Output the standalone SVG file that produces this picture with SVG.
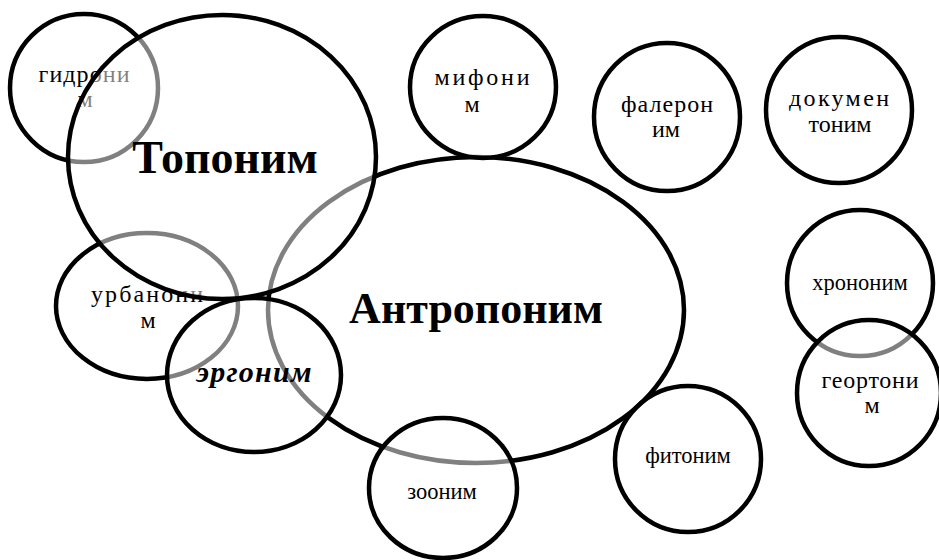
<svg xmlns="http://www.w3.org/2000/svg" width="939" height="560" viewBox="0 0 939 560">
<style>
.n{fill:#fff;fill-opacity:0.5;stroke:#000;stroke-width:4.5}
.t{font-family:"Liberation Serif","Times New Roman",serif;font-size:24px;fill:#000;text-anchor:middle}
.s{font-family:"Liberation Serif","Times New Roman",serif;font-size:22.5px;fill:#000;text-anchor:middle}
.big{font-family:"Liberation Serif","Times New Roman",serif;font-weight:bold;fill:#000;text-anchor:middle}
.it{font-family:"Liberation Serif","Times New Roman",serif;font-weight:bold;font-style:italic;font-size:30px;fill:#000;text-anchor:middle}
</style>
<rect width="939" height="560" fill="#fff"/>
<g id="connectors"></g>
<g id="gidronim"><ellipse class="n" cx="84" cy="88" rx="74" ry="74"/><text class="t" x="84" y="82" textLength="91" lengthAdjust="spacing">гидрони</text><text class="t" x="85" y="107">м</text></g>
<g id="urbanonim"><ellipse class="n" cx="147" cy="306" rx="91" ry="73"/><text class="t" x="147" y="302" textLength="112" lengthAdjust="spacing">урбанони</text><text class="t" x="148" y="328">м</text></g>
<g id="antroponim"><ellipse class="n" cx="476" cy="310" rx="208" ry="153"/><text class="big" x="476" y="323" font-size="44">Антропоним</text></g>
<g id="toponim"><ellipse class="n" cx="222" cy="157" rx="154" ry="142"/><text class="big" x="225" y="173" font-size="46">Топоним</text></g>
<g id="ergonim"><ellipse class="n" cx="254" cy="375" rx="87" ry="77"/><text class="it" x="254" y="382" textLength="115" lengthAdjust="spacing">эргоним</text></g>
<g id="mifonim"><ellipse class="n" cx="483" cy="87" rx="73" ry="71"/><text class="t" x="482" y="85" textLength="95" lengthAdjust="spacing">мифони</text><text class="t" x="472" y="112">м</text></g>
<g id="zoonim"><ellipse class="n" cx="443" cy="488" rx="74" ry="70"/><text class="s" x="442" y="499">зооним</text></g>
<g id="fitonim"><ellipse class="n" cx="688" cy="459" rx="73" ry="73"/><text class="s" x="688" y="463">фитоним</text></g>
<g id="faleronim"><ellipse class="n" cx="667" cy="117" rx="73" ry="74"/><text class="t" x="667" y="112" textLength="92" lengthAdjust="spacing">фалерон</text><text class="t" x="666" y="137">им</text></g>
<g id="dokumentonim"><ellipse class="n" cx="839" cy="110" rx="73" ry="73"/><text class="t" x="839" y="106" textLength="100" lengthAdjust="spacing">докумен</text><text class="t" x="840" y="132">тоним</text></g>
<g id="khrononim"><ellipse class="n" cx="860" cy="283" rx="73" ry="73"/><text class="s" x="860" y="290">хрононим</text></g>
<g id="geortonim"><ellipse class="n" cx="869" cy="393" rx="72" ry="73"/><text class="t" x="870" y="388" textLength="97" lengthAdjust="spacing">геортони</text><text class="t" x="872" y="413">м</text></g>
</svg>
